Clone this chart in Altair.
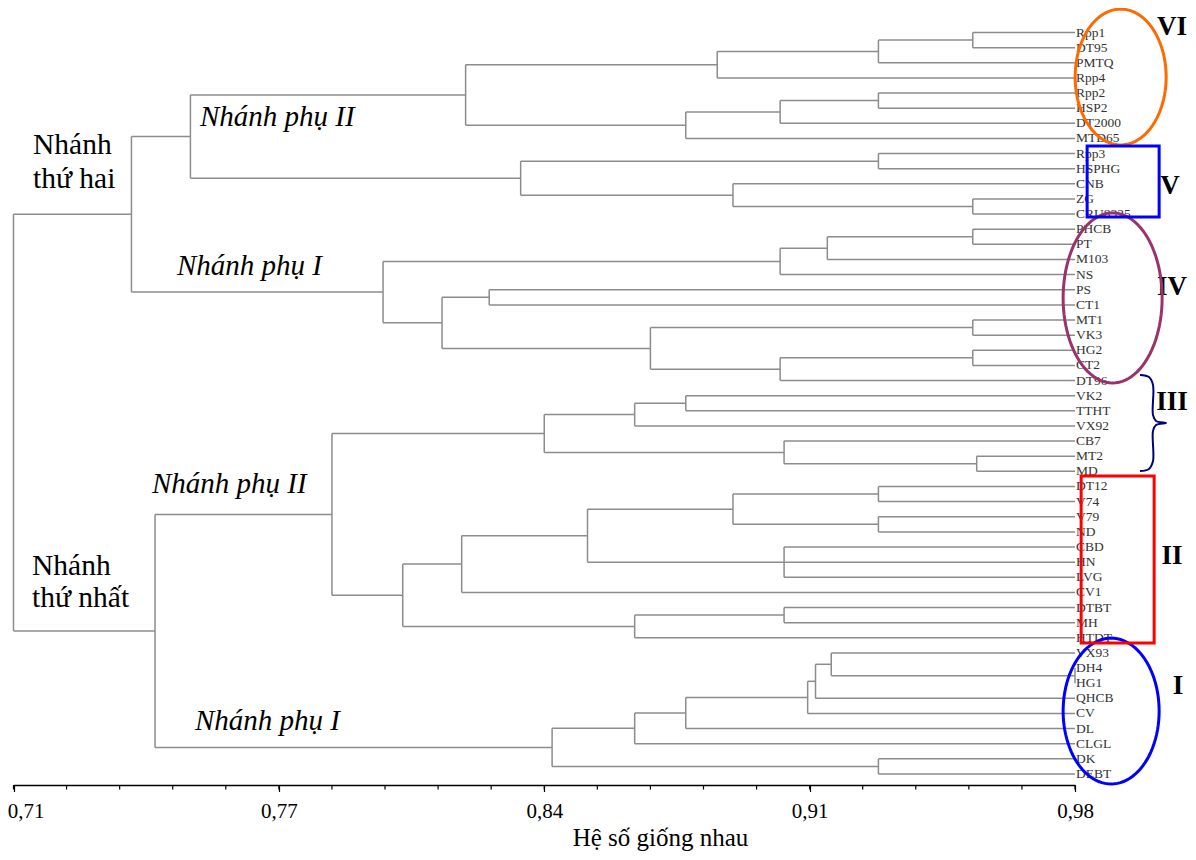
import altair as alt
import pandas as pd
import numpy as np

# ---------------- data ----------------
leaves = ["Rpp1", "DT95", "PMTQ", "Rpp4", "Rpp2", "HSP2", "DT2000", "MTD65",
          "Rpp3", "HSPHG", "CNB", "ZG", "CRU8325",
          "PHCB", "PT", "M103", "NS", "PS", "CT1", "MT1", "VK3", "HG2", "CT2", "DT96",
          "VK2", "TTHT", "VX92", "CB7", "MT2", "MD",
          "DT12", "V74", "V79", "ND", "CBD", "HN", "LVG", "CV1", "DTBT", "MH", "HTDT",
          "VX93", "DH4", "HG1", "QHCB", "CV", "DL", "CLGL", "DK", "DEBT"]

LEAF_END = 0.98

# (node, children top->bottom, similarity at which they join)
merges = [
    ("n1", ["Rpp1", "DT95"], 0.954),
    ("n2", ["n1", "PMTQ"], 0.930),
    ("n3", ["n2", "Rpp4"], 0.889),
    ("n4", ["Rpp2", "HSP2"], 0.930),
    ("n5", ["n4", "DT2000"], 0.905),
    ("n6", ["n5", "MTD65"], 0.881),
    ("n7", ["n3", "n6"], 0.825),
    ("n8", ["Rpp3", "HSPHG"], 0.930),
    ("n9", ["ZG", "CRU8325"], 0.954),
    ("n10", ["CNB", "n9"], 0.893),
    ("n11", ["n8", "n10"], 0.839),
    ("n12", ["n7", "n11"], 0.755),
    ("n13", ["PHCB", "PT"], 0.954),
    ("n14", ["n13", "M103"], 0.917),
    ("n15", ["n14", "NS"], 0.905),
    ("n16", ["PS", "CT1"], 0.831),
    ("n17", ["MT1", "VK3"], 0.954),
    ("n18", ["HG2", "CT2"], 0.954),
    ("n19", ["n18", "DT96"], 0.905),
    ("n20", ["n17", "n19"], 0.872),
    ("n21", ["n16", "n20"], 0.819),
    ("n22", ["n15", "n21"], 0.804),
    ("n23", ["n12", "n22"], 0.740),
    ("n24", ["VK2", "TTHT"], 0.881),
    ("n25", ["n24", "VX92"], 0.868),
    ("n26", ["MT2", "MD"], 0.955),
    ("n27", ["CB7", "n26"], 0.906),
    ("n28", ["n25", "n27"], 0.845),
    ("n29", ["DT12", "V74"], 0.930),
    ("n30", ["V79", "ND"], 0.930),
    ("n31", ["n29", "n30"], 0.893),
    ("n32", ["CBD", "HN", "LVG"], 0.906),
    ("n33", ["n31", "n32"], 0.856),
    ("n34", ["n33", "CV1"], 0.824),
    ("n35", ["DTBT", "MH"], 0.906),
    ("n36", ["n35", "HTDT"], 0.868),
    ("n37", ["n34", "n36"], 0.809),
    ("n38", ["n28", "n37"], 0.791),
    ("n39", ["DH4", "HG1"], 0.980),
    ("n40", ["VX93", "n39"], 0.918),
    ("n41", ["n40", "QHCB"], 0.914),
    ("n42", ["n41", "CV"], 0.912),
    ("n43", ["n42", "DL"], 0.881),
    ("n44", ["n43", "CLGL"], 0.868),
    ("n45", ["DK", "DEBT"], 0.930),
    ("n46", ["n44", "n45"], 0.847),
    ("n47", ["n38", "n46"], 0.746),
    ("root", ["n23", "n47"], 0.710),
]

tick_values = [0.71, 0.7775, 0.845, 0.9125, 0.98]
tick_labels = ["0,71", "0,77", "0,84", "0,91", "0,98"]
minor_step = 0.0135

branch_text = ["Nhánh phụ II", "Nhánh", "thứ hai", "Nhánh phụ I",
               "Nhánh phụ II", "Nhánh", "thứ nhất", "Nhánh phụ I"]
branch_x = [0.75744, 0.71496, 0.71496, 0.75159, 0.74523, 0.71471, 0.71471, 0.75617]
branch_y = [6.18, 8.03, 10.28, 16.02, 30.43, 35.85, 37.96, 46.09]
branch_italic = [True, False, False, True, True, False, False, True]

group_text = ["VI", "V", "IV", "III", "II", "I"]
group_x = [1.00467, 1.00416, 1.00467, 1.00467, 1.00467, 1.00620]
group_y = [-0.36, 10.14, 16.82, 24.42, 34.59, 43.18]

# ellipses: name, cx, cy, rx, ry, colour
ellipses = [
    ("VI", 0.99161, 2.94, 0.011575, 4.49, "#FF6A00"),
    ("IV", 0.98957, 17.54, 0.012592, 5.62, "#99336A"),
    ("I", 0.98919, 44.84, 0.012211, 4.82, "#0000FF"),
]
# rectangles: name, x, x2, y, y2, colour
rects = [
    ("V", 0.98309, 1.00140, 7.50, 12.19, "#0000FF"),
    ("II", 0.98156, 1.00013, 29.31, 40.35, "#FF0000"),
]
brace_x = [0.99653, 0.99882, 0.99984, 0.99984, 1.00060, 1.00314, 1.00060, 0.99984, 0.99984, 0.99882, 0.99653]
brace_y = [22.63, 22.77, 23.29, 25.28, 25.67, 25.80, 25.94, 26.34, 28.32, 28.84, 28.98]

# ---------------- build tree segments ----------------
pos = {name: (LEAF_END, i) for i, name in enumerate(leaves)}
rows = []
for node, kids, h in merges:
    ys = [pos[k][1] for k in kids]
    rows.append(dict(x=h, x2=h, y=ys[0], y2=ys[-1]))
    for k in kids:
        rows.append(dict(x=h, x2=pos[k][0], y=pos[k][1], y2=pos[k][1]))
    pos[node] = (h, (ys[0] + ys[-1]) / 2)
seg = pd.DataFrame(rows)

FONT = "Liberation Serif"
W, H = 1180, 777
xscale = alt.Scale(domain=[0.71, 0.98], range=[5.5, 1067], zero=False, nice=False)
yscale = alt.Scale(domain=[0, 49], range=[24.5, 766], zero=False, nice=False)

label_expr = " : ".join(
    f"abs(datum.value - {v}) < 0.003 ? '{l}'" for v, l in zip(tick_values, tick_labels)
) + " : ''"

xaxis = alt.Axis(
    values=tick_values, labelExpr=label_expr, grid=False, labelFlush=False,
    domainColor="#000", domainWidth=1.5, tickColor="#000", tickWidth=1.2, tickSize=6.5,
    labelFont=FONT, labelFontSize=21, labelColor="#000", labelPadding=9,
    labelOffset={"condition": {"test": "datum.value < 0.72", "value": 12}, "value": 0},
    title="Hệ số giống nhau", titleFont=FONT, titleFontSize=25, titleFontWeight="normal",
    titleColor="#000", titleX=652, titleY=60, titleBaseline="alphabetic", titleAlign="center",
)


def X(field="x"):
    return alt.X(f"{field}:Q", scale=xscale, axis=xaxis)


def Y(field="y"):
    return alt.Y(f"{field}:Q", scale=yscale, axis=None)


tree = alt.Chart(seg).mark_rule(color="#8c8c8c", strokeWidth=1.5).encode(
    x=X(), x2="x2:Q", y=Y(), y2="y2:Q",
)

minor_vals = [round(0.71 + i * minor_step, 4) for i in range(21)]
minor = alt.Chart(pd.DataFrame({"x": minor_vals})).mark_rule(color="#000", strokeWidth=1.2).encode(
    x=X(), y=alt.value(H), y2=alt.value(H + 4.5),
)

leaf_df = pd.DataFrame({"name": leaves, "x": [LEAF_END] * len(leaves), "y": list(range(len(leaves)))})
leaf_txt = alt.Chart(leaf_df).mark_text(
    align="left", baseline="middle", font=FONT, fontSize=13.5, color="#333", dx=1
).encode(x=X(), y=Y(), text="name:N")

bdf = pd.DataFrame({"t": branch_text, "x": branch_x, "y": branch_y, "it": branch_italic})
br_norm = alt.Chart(bdf[~bdf.it]).mark_text(
    align="left", baseline="alphabetic", font=FONT, fontSize=29.5, color="#000"
).encode(x=X(), y=Y(), text="t:N")
br_ital = alt.Chart(bdf[bdf.it]).mark_text(
    align="left", baseline="alphabetic", font=FONT, fontSize=29, fontStyle="italic", color="#000"
).encode(x=X(), y=Y(), text="t:N")

gdf = pd.DataFrame({"t": group_text, "x": group_x, "y": group_y})
grp = alt.Chart(gdf).mark_text(
    align="center", baseline="middle", font=FONT, fontSize=27, fontWeight="bold", color="#000"
).encode(x=X(), y=Y(), text="t:N")

# ellipse outlines
erows = []
tt = np.linspace(0, 2 * np.pi, 97)
for name, cx, cy, rx, ry, col in ellipses:
    for i, t in enumerate(tt):
        erows.append(dict(shape=name, o=i, x=cx + rx * np.cos(t), y=cy + ry * np.sin(t)))
edf = pd.DataFrame(erows)
ell = alt.Chart(edf).mark_line(strokeWidth=3).encode(
    x=X(), y=Y(), order="o:Q", detail="shape:N",
    color=alt.Color("shape:N", scale=alt.Scale(domain=[e[0] for e in ellipses], range=[e[5] for e in ellipses]), legend=None),
)

rdf = pd.DataFrame([dict(shape=r[0], x=r[1], x2=r[2], y=r[3], y2=r[4]) for r in rects])
rct = alt.Chart(rdf).mark_rect(filled=False, strokeWidth=3).encode(
    x=X(), x2="x2:Q", y=Y(), y2="y2:Q",
    stroke=alt.Stroke("shape:N", scale=alt.Scale(domain=[r[0] for r in rects], range=[r[5] for r in rects]), legend=None),
)

brdf = pd.DataFrame({"x": brace_x, "y": brace_y, "o": list(range(len(brace_x)))})
brace = alt.Chart(brdf).mark_line(color="#000080", strokeWidth=2, interpolate="catmull-rom").encode(
    x=X(), y=Y(), order="o:Q",
)

chart = alt.layer(tree, minor, leaf_txt, br_norm, br_ital, grp, ell, rct, brace).resolve_scale(
    color="independent", stroke="independent"
).properties(
    width=W, height=H,
    autosize=alt.AutoSizeParams(type="none"),
    padding={"left": 0, "top": 0, "right": 0, "bottom": 67},
    background="white",
).configure_view(strokeWidth=0, stroke="transparent")

chart.save("out.html", embed_options={"renderer": "svg", "actions": False})
